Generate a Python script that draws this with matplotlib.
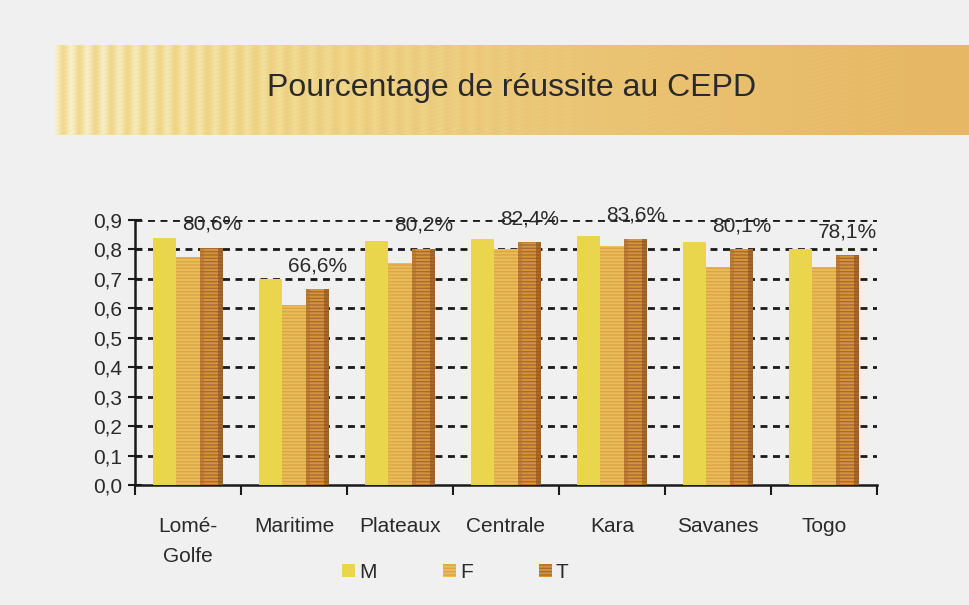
import numpy as np
import matplotlib
matplotlib.use('Agg')
import matplotlib.pyplot as plt
from matplotlib.colors import LinearSegmentedColormap
from matplotlib.ticker import FixedLocator, FuncFormatter

plt.rcParams['font.family'] = ['Liberation Sans', 'DejaVu Sans']

regions = ['Lomé-\nGolfe', 'Maritime', 'Plateaux', 'Centrale', 'Kara', 'Savanes', 'Togo']
taux_m = [0.84, 0.70, 0.83, 0.835, 0.845, 0.825, 0.80]
taux_f = [0.775, 0.61, 0.755, 0.80, 0.81, 0.74, 0.74]
taux_t = [0.806, 0.666, 0.802, 0.824, 0.836, 0.801, 0.781]
labels_t = ['80,6%', '66,6%', '80,2%', '82,4%', '83,6%', '80,1%', '78,1%']
yticks = [0.0, 0.1, 0.2, 0.3, 0.4, 0.5, 0.6, 0.7, 0.8, 0.9]

bg = '#f1f0f0'
fig = plt.figure(figsize=(9.69, 6.05), dpi=100, facecolor=bg)

# title banner with a striped gold gradient
ban = fig.add_axes([55 / 969, 1 - 135 / 605, 914 / 969, 90 / 605])
w, h = 914, 90
xx = np.linspace(0, 1, w)
base = np.tile(xx, (h, 1))
stripes = 0.5 + 0.5 * np.cos(2 * np.pi * np.arange(w) / 16.0)
fade = np.clip(1 - xx / 0.6, 0, 1) ** 0.8
val = 0.3 + base * 0.7 - 0.3 * (stripes * fade)[None, :]
diag = 0.03 * np.sin(2 * np.pi * (np.arange(h)[:, None] * 1.0 + np.arange(w)[None, :] * 0.25) / 4.0)
val = np.clip(val + diag, 0, 1)
cmap = LinearSegmentedColormap.from_list('gold', ['#f8efcc', '#f0d98c', '#ebc677', '#e6b764'])
ban.imshow(val, cmap=cmap, aspect='auto', vmin=0, vmax=1, interpolation='bilinear')
ban.set_axis_off()
fig.text(512 / 969, 1 - 88 / 605, 'Pourcentage de réussite au CEPD', ha='center', va='center',
         fontsize=23, color='#2a2a2a')

ax = fig.add_axes([135 / 969, 1 - 485 / 605, 742 / 969, 265 / 605])
ax.set_facecolor(bg)
x = np.arange(len(regions))
bw = 0.22

ax.bar(x - bw, taux_m, bw, color='#e9d64c', linewidth=0, zorder=3, label='M')
ax.bar(x, taux_f, bw, color='#ebbd58', edgecolor='#dba548', linewidth=0, hatch='-----', zorder=3, label='F')
ax.bar(x + bw, taux_t, bw, color='#d4953f', edgecolor='#ad6a2c', linewidth=0, hatch='-----', zorder=3, label='T')
# darker rims on the T bars
ax.bar(x + bw - bw * 0.4, taux_t, bw * 0.2, color='#b07030', linewidth=0, zorder=3.5, alpha=0.55)
ax.bar(x + bw + bw * 0.4, taux_t, bw * 0.2, color='#8a5022', linewidth=0, zorder=3.5, alpha=0.6)

for i, lab in enumerate(labels_t):
    ax.annotate(lab, (x[i] + bw, taux_t[i]), xytext=(0, 10), textcoords='offset points',
                ha='center', va='bottom', fontsize=15, color='#2a2a2a', zorder=5)

ax.set_xlim(-0.5, len(regions) - 0.5)
ax.set_ylim(0, 0.9)
ax.yaxis.set_major_locator(FixedLocator(yticks))
ax.yaxis.set_major_formatter(FuncFormatter(lambda v, p: f'{v:.1f}'.replace('.', ',')))
for yv in yticks[1:]:
    ax.axhline(yv, color='#1a1a1a', linewidth=2, linestyle=(0, (2.5, 2)), zorder=1)

ax.set_xticks(x)
ax.set_xticklabels(regions, fontsize=15, color='#2a2a2a', linespacing=1.75)
ax.set_xticks(np.arange(len(regions) + 1) - 0.5, minor=True)
ax.tick_params(axis='x', which='major', length=0, pad=23)
ax.tick_params(axis='x', which='minor', length=7, width=1.5, direction='out', color='#1a1a1a')
ax.tick_params(axis='y', length=10, width=1.5, direction='inout', labelsize=15,
               labelcolor='#2a2a2a', color='#1a1a1a', pad=4)

for s in ['top', 'right']:
    ax.spines[s].set_visible(False)
for s in ['left', 'bottom']:
    ax.spines[s].set_linewidth(1.8)
    ax.spines[s].set_color('#1a1a1a')

handles, labs = ax.get_legend_handles_labels()
fig.legend(handles, labs, loc='center', bbox_to_anchor=(0.47, 1 - 572 / 605), ncol=3,
           frameon=False, fontsize=15, handlelength=0.6, handleheight=0.6,
           handletextpad=0.2, columnspacing=3.2, labelcolor='#2a2a2a')

fig.savefig('out.png', dpi=100, facecolor=bg)
